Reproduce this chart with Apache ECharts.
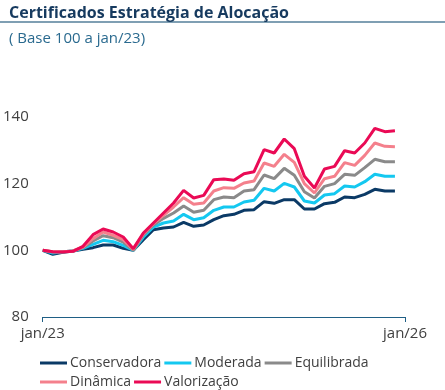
<!DOCTYPE html>
<html>
<head>
<meta charset="utf-8">
<script src="https://cdn.jsdelivr.net/npm/echarts@6/dist/echarts.min.js"></script>
<style>
html,body{margin:0;padding:0;background:#fff;}
#chart{width:445px;height:390px;}
</style>
</head>
<body>
<div id="chart"></div>
<script>
const months = ['jan','fev','mar','abr','mai','jun','jul','ago','set','out','nov','dez'];
const categories = [];
for (let y = 23; y <= 26; y++) { for (let m = 0; m < 12; m++) { categories.push(months[m] + '/' + y); if (y === 26) break; } }
const xTickLabels = ['jan/23', 'jan/26'];

const conservadora = [100,98.8,99.4,99.8,100.3,100.8,101.6,101.6,100.6,100,103.2,106.2,106.7,107,108.4,107.2,107.6,109.2,110.4,110.8,112,112.2,114.6,114.1,115.2,115.2,112.4,112.4,114,114.4,116,115.8,116.8,118.3,117.8,117.8];
const moderada = [100,99.2,99.6,99.8,100.6,101.8,103,102.6,101.5,100,104,107,108.2,108.8,110.8,109.2,109.8,112,113,113,114.5,115,118.6,117.8,120.1,119,114.8,114.2,116.6,117,119.3,119,120.6,122.8,122.2,122.2];
const equilibrada = [100,99.5,99.6,99.8,100.8,102.8,104.4,103.8,102.5,100,104.6,107.6,109.6,111.2,113.3,111.4,112,115.2,116,115.8,117.8,118.2,122.6,121.5,124.6,122.5,117.6,115.7,119.2,120,122.8,122.5,124.8,127.3,126.6,126.6];
const dinamica = [100,99.6,99.6,99.8,101,103.5,105.5,104.5,103.2,100.3,105,108,110.5,113,115.8,113.8,114.2,117.8,118.8,118.6,120.2,120.8,126.2,125.2,128.8,126.4,120,117.2,121.5,122.2,126.3,125.5,128.5,132.2,131.2,131.1];
const valorizacao = [100,99.6,99.5,99.7,101.2,104.7,106.4,105.5,104,100.5,105.2,108.2,111.2,114.2,118,115.7,116.5,121.2,121.4,121,123,123.6,130.2,129.2,133.4,130.5,122.2,118.7,124.4,125.2,129.9,129.2,132.2,136.6,135.6,135.9];

const seriesNames = ['Conservadora','Moderada','Equilibrada','Dinâmica','Valorização'];
const seriesData = [conservadora, moderada, equilibrada, dinamica, valorizacao];
const colors = ['#0b3a66','#14c8f0','#8a8a8a','#f4808c','#ea0a55'];

const FONT = 'Open Sans';
const chart = echarts.init(document.getElementById('chart'), null, {renderer:'canvas'});
const lastIdx = categories.length - 1;

const legendCommon = {
  left: 35, orient: 'horizontal', icon: 'rect', itemWidth: 27, itemHeight: 3, itemGap: 3,
  textStyle: { fontFamily: FONT, fontSize: 14, color: '#404040', width: 103, padding: [0,0,0,-2] }
};

chart.setOption({
  animation: false,
  color: colors,
  title: [
    { text: 'Certificados Estratégia de Alocação', left: 4, top: 0,
      textStyle: { fontFamily: FONT, fontWeight: 'bold', fontSize: 16, color: '#163a5f' } },
    { text: '( Base 100 a jan/23)', left: 4, top: 26,
      textStyle: { fontFamily: FONT, fontWeight: 'normal', fontSize: 15, color: '#2a6a8f' } }
  ],
  graphic: [{ type: 'line', shape: { x1: 0, y1: 22, x2: 445, y2: 22 }, style: { stroke: '#7f9fb3', lineWidth: 2 } }],
  legend: [
    Object.assign({}, legendCommon, { top: 351, data: seriesNames.slice(0,3) }),
    Object.assign({}, legendCommon, { top: 370, data: seriesNames.slice(3) })
  ],
  grid: { left: 41, right: 40, top: 117, bottom: 73, containLabel: false },
  xAxis: {
    type: 'category', data: categories, boundaryGap: false,
    axisLine: { lineStyle: { color: '#1f5f85', width: 1 } },
    axisTick: { show: true, length: 5, interval: (i) => i === 0 || i === lastIdx, lineStyle: { color: '#1f5f85' } },
    axisLabel: { interval: (i) => i === 0 || i === lastIdx, margin: 9, fontFamily: FONT, fontSize: 15, color: '#404040',
      formatter: (v) => xTickLabels.indexOf(v) >= 0 ? v : '' },
    splitLine: { show: false }
  },
  yAxis: {
    type: 'value', min: 80, max: 140, interval: 20,
    axisLine: { show: false }, axisTick: { show: false }, splitLine: { show: false },
    axisLabel: { margin: 14, fontFamily: FONT, fontSize: 15, color: '#404040' }
  },
  series: seriesNames.map((n, k) => ({
    name: n, type: 'line', data: seriesData[k], symbol: 'none', smooth: false,
    lineStyle: { width: 3, color: colors[k] }, itemStyle: { color: colors[k] }
  }))
});
</script>
</body>
</html>
